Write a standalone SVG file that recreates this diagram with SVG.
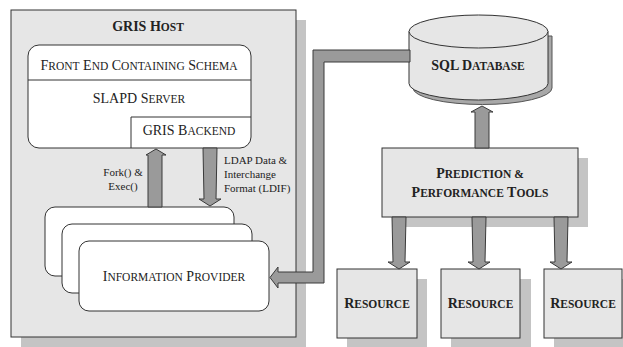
<svg xmlns="http://www.w3.org/2000/svg" width="623" height="347" viewBox="0 0 623 347">
<style>
text{font-family:"Liberation Serif","Times New Roman",serif;fill:#222;font-size:14px}
.b{font-weight:bold}
.s{font-size:11.5px}
.lbl{font-size:11px}
.shadow{fill:#c4c4c4}
.gbox{fill:#e6e6e6;stroke:#333;stroke-width:1}
.wbox{fill:#fff;stroke:#333;stroke-width:1}
.arrow{fill:#9a9a9a;stroke:#3a3a3a;stroke-width:1;stroke-linejoin:miter}
</style>
<rect width="623" height="347" fill="#fff"/>
<g id="gris-host">
<rect class="shadow" x="21" y="20" width="285" height="327"/>
<rect class="gbox" x="11" y="10" width="285" height="327"/>
<text class="b" x="148" y="31" text-anchor="middle">GRIS H<tspan class="s">OST</tspan></text>
</g>
<g id="slapd">
<rect class="wbox" x="28" y="45" width="223" height="103" rx="11"/>
<line x1="28" y1="80" x2="251" y2="80" stroke="#333"/>
<text x="139" y="70" text-anchor="middle">F<tspan class="s">RONT</tspan> E<tspan class="s">ND</tspan> C<tspan class="s">ONTAINING</tspan> S<tspan class="s">CHEMA</tspan></text>
<text x="139" y="103" text-anchor="middle">SLAPD S<tspan class="s">ERVER</tspan></text>
</g>
<g id="gris-backend">
<path d="M131,148 V117 H251" fill="none" stroke="#333"/>
<text x="189" y="135" text-anchor="middle">GRIS B<tspan class="s">ACKEND</tspan></text>
</g>
<g id="info-provider">
<rect class="wbox" x="45" y="207" width="189" height="69" rx="10"/>
<rect class="wbox" x="62" y="224" width="190" height="69" rx="10"/>
<rect class="wbox" x="79" y="241" width="190" height="70" rx="10"/>
<text x="174" y="281" text-anchor="middle">I<tspan class="s">NFORMATION</tspan> P<tspan class="s">ROVIDER</tspan></text>
</g>
<g id="sql-db">
<path d="M413,36 V88 A69.5,16.5 0 0 0 552,88 V36 Z" fill="#a8a8a8" stroke="#555"/>
<path d="M409,31.5 V83.5 A69.5,16.5 0 0 0 548,83.5 V31.5" fill="#e6e6e6" stroke="#333"/>
<ellipse cx="478.5" cy="31.5" rx="69.5" ry="16.5" fill="#e6e6e6" stroke="#333"/>
<text class="b" x="478" y="70" text-anchor="middle">SQL D<tspan class="s">ATABASE</tspan></text>
</g>
<g id="prediction">
<rect class="shadow" x="392" y="158" width="196" height="69"/>
<rect class="gbox" x="382" y="148" width="196" height="69"/>
<text class="b" x="480" y="178" text-anchor="middle">P<tspan class="s">REDICTION &amp;</tspan></text>
<text class="b" x="480" y="197" text-anchor="middle">P<tspan class="s">ERFORMANCE</tspan> T<tspan class="s">OOLS</tspan></text>
</g>
<g id="resource-1">
<rect class="shadow" x="347" y="279" width="80" height="69"/>
<rect class="gbox" x="337" y="269" width="80" height="69"/>
<text class="b" x="377" y="308" text-anchor="middle">R<tspan class="s">ESOURCE</tspan></text>
</g>
<g id="resource-2">
<rect class="shadow" x="451" y="279" width="80" height="69"/>
<rect class="gbox" x="441" y="269" width="79" height="69"/>
<text class="b" x="480.5" y="308" text-anchor="middle">R<tspan class="s">ESOURCE</tspan></text>
</g>
<g id="resource-3">
<rect class="shadow" x="554" y="279" width="80" height="69"/>
<rect class="gbox" x="544" y="269" width="78" height="69"/>
<text class="b" x="583" y="308" text-anchor="middle">R<tspan class="s">ESOURCE</tspan></text>
</g>
<g id="connectors">
<path class="arrow" d="M148,207 V155 H146 L156,149 L166,155 H162 V207 Z"/>
<path class="arrow" d="M203,148 H217 L216,199 H221 L210,206 L199,199 H204 Z"/>
<path class="arrow" d="M410,50 H313 V272 H278 V267 L270,277.5 L278,288 V283 H324 V62 H410 Z"/>
<path class="arrow" d="M475,148 V112 H471 L482,106 L493,112 H489 V148 Z"/>
<path class="arrow" d="M392,217 H406 L405,262 H410 L399,269 L388,262 H393 Z"/>
<path class="arrow" d="M472,217 H486 L485,262 H490 L479,269 L468,262 H473 Z"/>
<path class="arrow" d="M554,217 H568 L567,262 H572 L561,269 L550,262 H555 Z"/>
<text class="lbl" x="123" y="176" text-anchor="middle">Fork() &amp;</text>
<text class="lbl" x="123" y="190" text-anchor="middle">Exec()</text>
<text class="lbl" x="224" y="164">LDAP Data &amp;</text>
<text class="lbl" x="224" y="178">Interchange</text>
<text class="lbl" x="224" y="192">Format (LDIF)</text>
</g>
</svg>
